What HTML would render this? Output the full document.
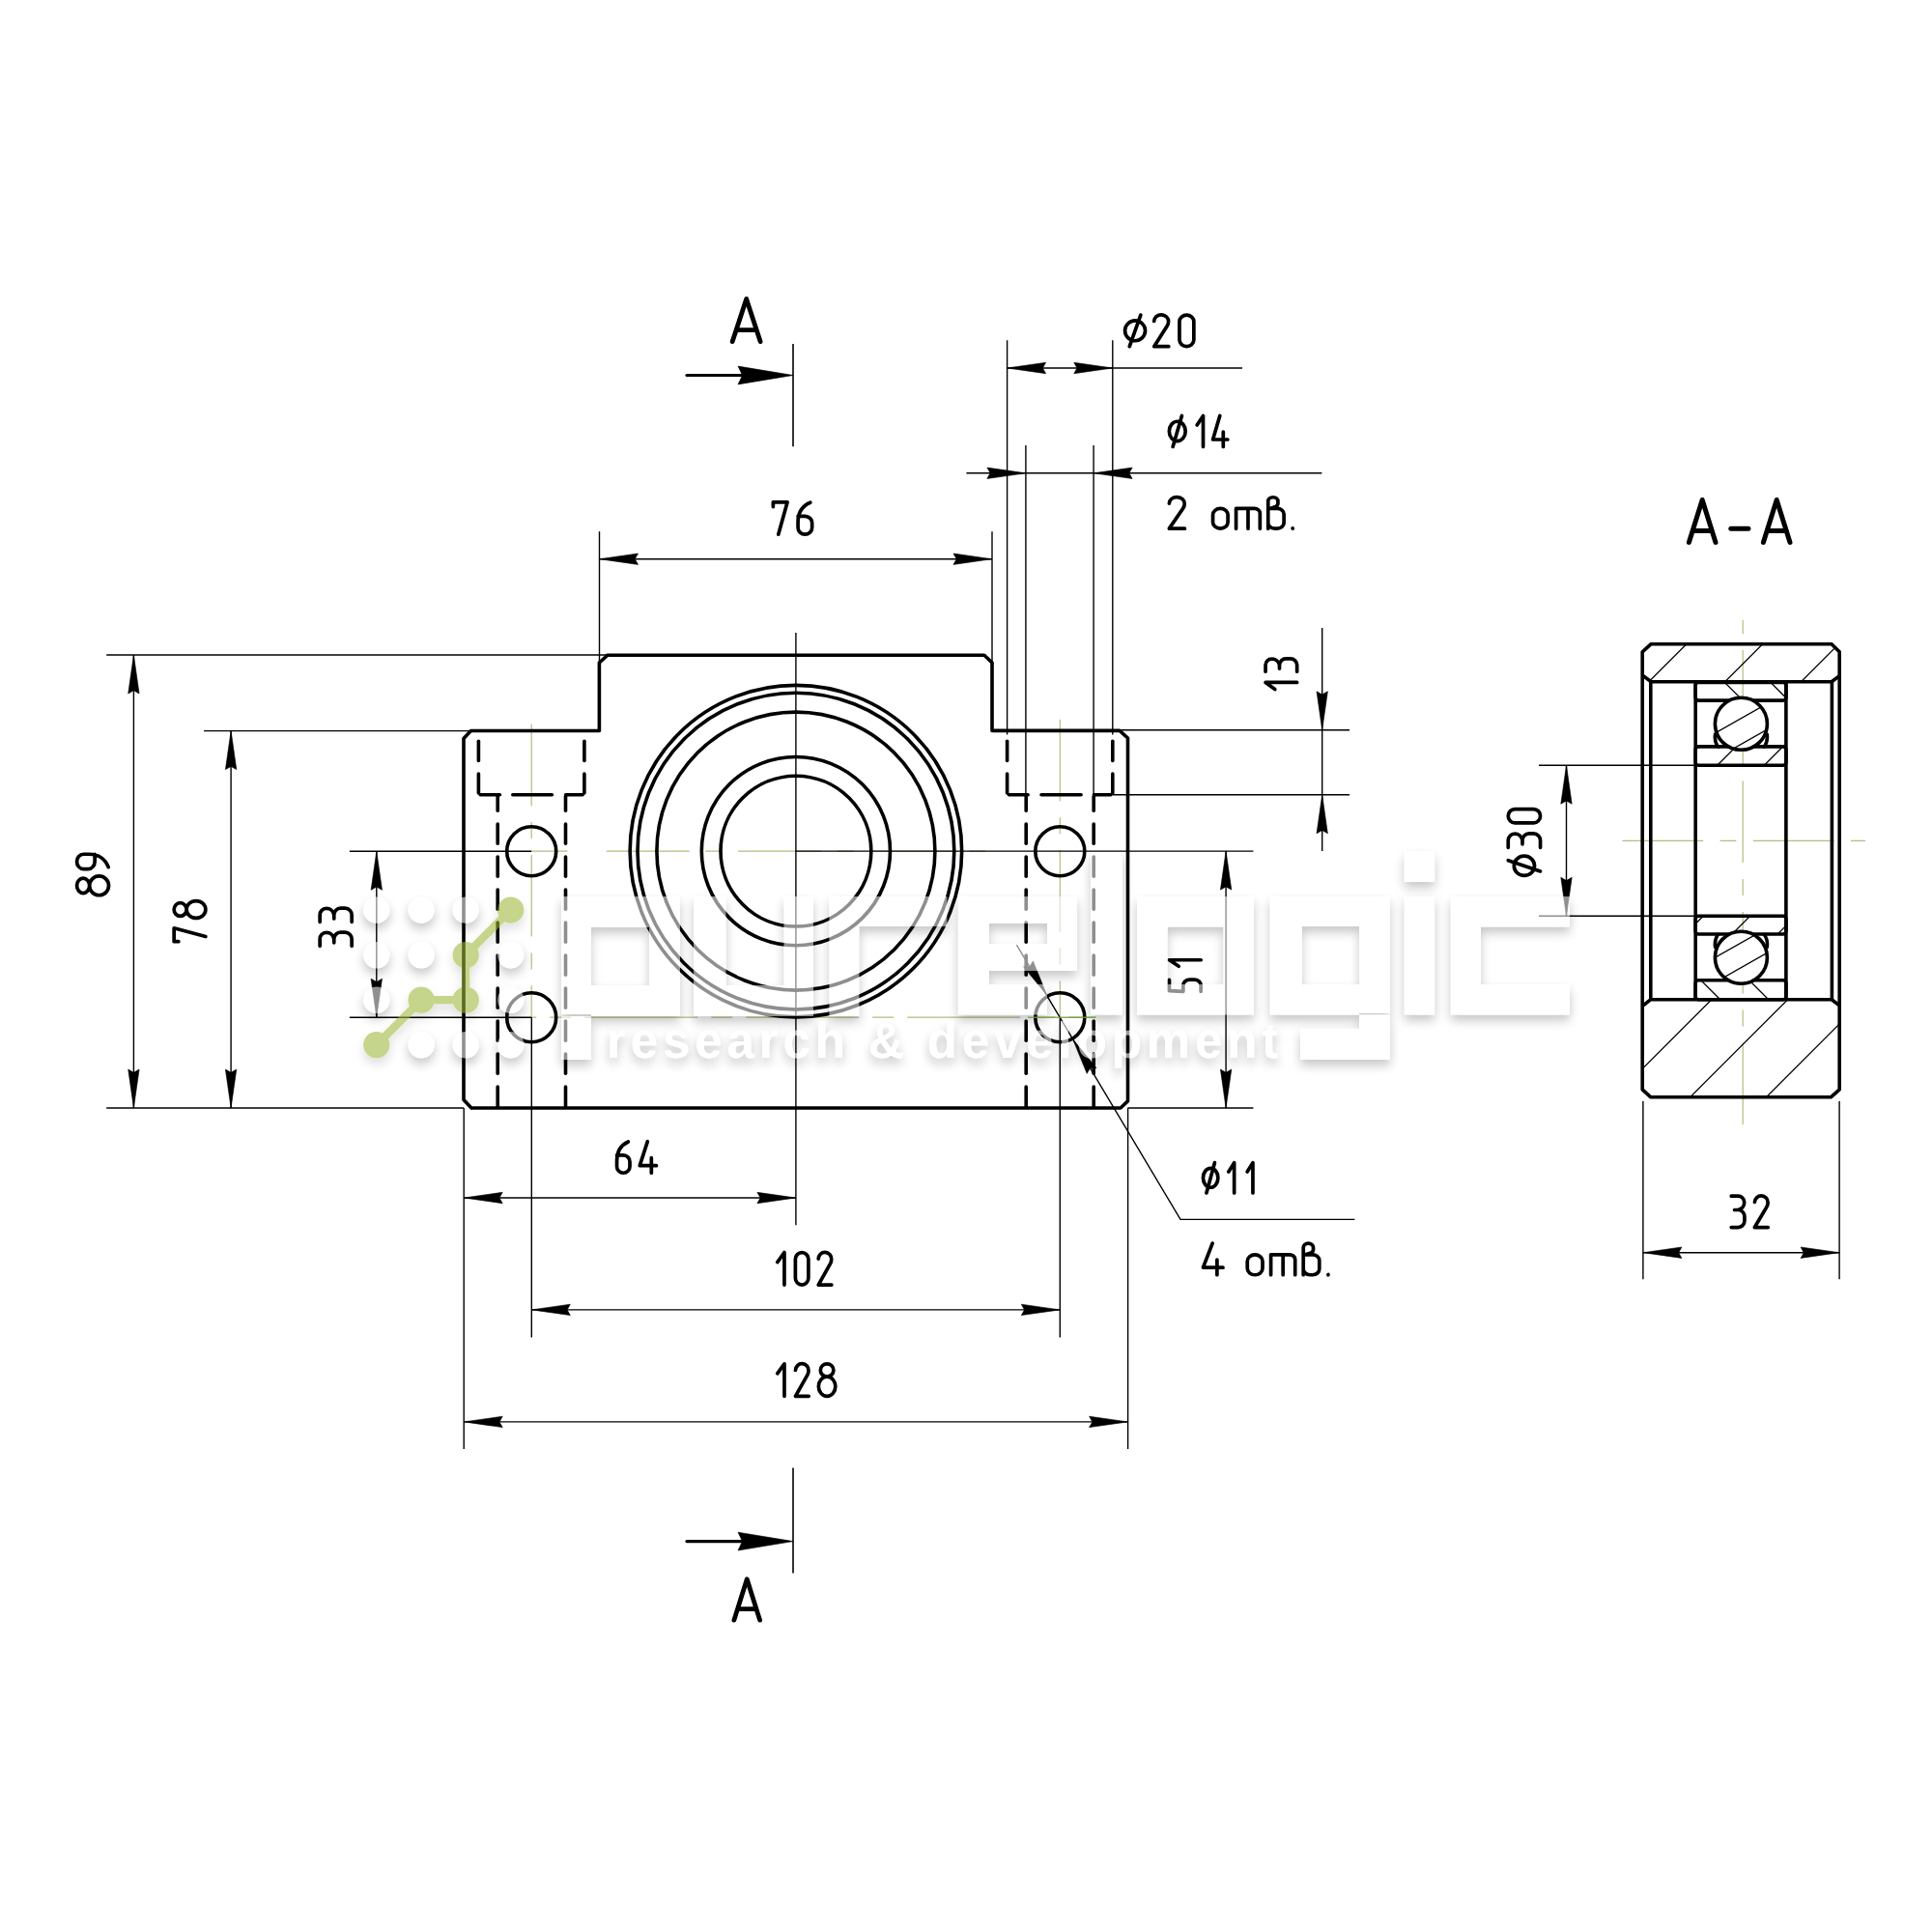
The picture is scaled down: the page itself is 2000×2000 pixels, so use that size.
<!DOCTYPE html><html><head><meta charset="utf-8"><style>html,body{margin:0;padding:0;background:#fff;overflow:hidden}svg{display:block}</style></head><body><svg width="2000" height="2000" viewBox="0 0 2000 2000"><defs><clipPath id="cTop"><path d="M1709.2,666.7 H1896.1 L1904.2,674.8 V699.6 L1896.1,705.8 H1709.2 L1701.1,699.6 V674.8 Z"/></clipPath><clipPath id="cBot"><path d="M1708.8,1034.7 H1896.1 L1904.2,1040.9 V1127.8 L1895.3,1135.8 H1708.9 L1700.2,1127.8 V1040.9 Z"/></clipPath><clipPath id="r1"><rect x="1755.2" y="706.5" width="93.7" height="18.6"/></clipPath><clipPath id="r2"><rect x="1755.2" y="772.9" width="93.7" height="19.3"/></clipPath><clipPath id="r3"><rect x="1755.2" y="948.3" width="93.7" height="18.7"/></clipPath><clipPath id="r4"><rect x="1755.2" y="1014.8" width="93.7" height="19.9"/></clipPath><clipPath id="b1"><circle cx="1802.4" cy="749.3" r="27"/></clipPath><clipPath id="b2"><circle cx="1802.4" cy="991.2" r="27"/></clipPath><clipPath id="b1b"><circle cx="1802.4" cy="749.3" r="27"/></clipPath><clipPath id="b2b"><circle cx="1802.4" cy="991.2" r="27"/></clipPath><filter id="wm" x="-20%" y="-20%" width="140%" height="160%" color-interpolation-filters="sRGB">
<feComponentTransfer in="SourceAlpha" result="A"><feFuncA type="linear" slope="2.2"/></feComponentTransfer>
<feGaussianBlur in="A" stdDeviation="5.5" result="b"/>
<feOffset in="b" dx="0" dy="6" result="o"/>
<feComponentTransfer in="o" result="s"><feFuncA type="linear" slope="0.22"/></feComponentTransfer>
<feFlood flood-color="#000" result="k"/>
<feComposite in="k" in2="s" operator="in" result="sh"/>
<feComposite in="sh" in2="A" operator="out" result="sh2"/>
<feMerge><feMergeNode in="sh2"/><feMergeNode in="SourceGraphic"/></feMerge>
</filter></defs><rect width="2000" height="2000" fill="#fff"/><line x1="627.7" y1="881.1" x2="1020.1" y2="881.1" stroke="#b3bd7f" stroke-width="1.2" stroke-dasharray="86,16.3,17.1,17.1" stroke-dashoffset="0"/>
<line x1="550.2" y1="881.1" x2="587.4" y2="881.1" stroke="#b3bd7f" stroke-width="1.2" stroke-dasharray="200" stroke-dashoffset="0"/>
<line x1="550.2" y1="749.6" x2="550.2" y2="1053.3" stroke="#b3bd7f" stroke-width="1.2" stroke-dasharray="84.7,16.8,17,16.8" stroke-dashoffset="0"/>
<line x1="1097.3" y1="744.8" x2="1097.3" y2="1053.3" stroke="#b3bd7f" stroke-width="1.2" stroke-dasharray="84.7,16.8,17,16.8" stroke-dashoffset="0"/>
<line x1="550.2" y1="1053.1" x2="1134.4" y2="1053.1" stroke="#b3bd7f" stroke-width="1.2" stroke-dasharray="117,14,22,14" stroke-dashoffset="-55"/>
<path d="M480,1138.6 V764.5 L487.5,756.5 H620.4 V686 L629,678.2 H1018.9 L1027,686 V756.4 H1159 L1167.5,764 V1139.9 L1160,1147 H488 Z" fill="none" stroke="#000" stroke-width="3.6" stroke-linecap="round" stroke-linejoin="round"/>
<circle cx="823.9" cy="881.1" r="171.75" fill="none" stroke="#000" stroke-width="3.6"/>
<circle cx="823.9" cy="881.1" r="163.9" fill="none" stroke="#000" stroke-width="3.6"/>
<circle cx="823.9" cy="881.1" r="144" fill="none" stroke="#000" stroke-width="3.6"/>
<circle cx="823.9" cy="881.1" r="97.6" fill="none" stroke="#000" stroke-width="3.6"/>
<circle cx="823.9" cy="881.1" r="77.9" fill="none" stroke="#000" stroke-width="3.6"/>
<circle cx="550.2" cy="881.3" r="25.5" fill="none" stroke="#000" stroke-width="3.6"/>
<circle cx="550.2" cy="1053.2" r="25.5" fill="none" stroke="#000" stroke-width="3.6"/>
<circle cx="1097.3" cy="881.3" r="25.5" fill="none" stroke="#000" stroke-width="3.6"/>
<circle cx="1097.3" cy="1053.2" r="25.5" fill="none" stroke="#000" stroke-width="3.6"/>
<line x1="495.4" y1="801" x2="495.4" y2="820.9" stroke="#000" stroke-width="3.6" stroke-linecap="round"/>
<line x1="495.4" y1="767.2" x2="495.4" y2="787.4" stroke="#000" stroke-width="3.6" stroke-linecap="round"/>
<line x1="604.9" y1="801" x2="604.9" y2="820.9" stroke="#000" stroke-width="3.6" stroke-linecap="round"/>
<line x1="604.9" y1="767.2" x2="604.9" y2="787.4" stroke="#000" stroke-width="3.6" stroke-linecap="round"/>
<line x1="497.2" y1="822.7" x2="517.4" y2="822.7" stroke="#000" stroke-width="3.6" stroke-linecap="round"/>
<line x1="530.8" y1="822.7" x2="571.4" y2="822.7" stroke="#000" stroke-width="3.6" stroke-linecap="round"/>
<line x1="585.7" y1="822.7" x2="603.1" y2="822.7" stroke="#000" stroke-width="3.6" stroke-linecap="round"/>
<line x1="515.2" y1="1125.1" x2="515.2" y2="1145.2" stroke="#000" stroke-width="3.6" stroke-linecap="round"/>
<line x1="515.2" y1="1091.1" x2="515.2" y2="1111.2" stroke="#000" stroke-width="3.6" stroke-linecap="round"/>
<line x1="515.2" y1="1057.1" x2="515.2" y2="1077.2" stroke="#000" stroke-width="3.6" stroke-linecap="round"/>
<line x1="515.2" y1="1023.1" x2="515.2" y2="1043.2" stroke="#000" stroke-width="3.6" stroke-linecap="round"/>
<line x1="515.2" y1="989.1" x2="515.2" y2="1009.2" stroke="#000" stroke-width="3.6" stroke-linecap="round"/>
<line x1="515.2" y1="955.1" x2="515.2" y2="975.2" stroke="#000" stroke-width="3.6" stroke-linecap="round"/>
<line x1="515.2" y1="921.1" x2="515.2" y2="941.2" stroke="#000" stroke-width="3.6" stroke-linecap="round"/>
<line x1="515.2" y1="887.1" x2="515.2" y2="907.2" stroke="#000" stroke-width="3.6" stroke-linecap="round"/>
<line x1="515.2" y1="853.1" x2="515.2" y2="873.2" stroke="#000" stroke-width="3.6" stroke-linecap="round"/>
<line x1="515.2" y1="824.5" x2="515.2" y2="839.2" stroke="#000" stroke-width="3.6" stroke-linecap="round"/>
<line x1="585.5" y1="1125.1" x2="585.5" y2="1145.2" stroke="#000" stroke-width="3.6" stroke-linecap="round"/>
<line x1="585.5" y1="1091.1" x2="585.5" y2="1111.2" stroke="#000" stroke-width="3.6" stroke-linecap="round"/>
<line x1="585.5" y1="1057.1" x2="585.5" y2="1077.2" stroke="#000" stroke-width="3.6" stroke-linecap="round"/>
<line x1="585.5" y1="1023.1" x2="585.5" y2="1043.2" stroke="#000" stroke-width="3.6" stroke-linecap="round"/>
<line x1="585.5" y1="989.1" x2="585.5" y2="1009.2" stroke="#000" stroke-width="3.6" stroke-linecap="round"/>
<line x1="585.5" y1="955.1" x2="585.5" y2="975.2" stroke="#000" stroke-width="3.6" stroke-linecap="round"/>
<line x1="585.5" y1="921.1" x2="585.5" y2="941.2" stroke="#000" stroke-width="3.6" stroke-linecap="round"/>
<line x1="585.5" y1="887.1" x2="585.5" y2="907.2" stroke="#000" stroke-width="3.6" stroke-linecap="round"/>
<line x1="585.5" y1="853.1" x2="585.5" y2="873.2" stroke="#000" stroke-width="3.6" stroke-linecap="round"/>
<line x1="585.5" y1="824.5" x2="585.5" y2="839.2" stroke="#000" stroke-width="3.6" stroke-linecap="round"/>
<line x1="1042.6" y1="801" x2="1042.6" y2="820.9" stroke="#000" stroke-width="3.6" stroke-linecap="round"/>
<line x1="1042.6" y1="767.2" x2="1042.6" y2="787.4" stroke="#000" stroke-width="3.6" stroke-linecap="round"/>
<line x1="1151.8" y1="801" x2="1151.8" y2="820.9" stroke="#000" stroke-width="3.6" stroke-linecap="round"/>
<line x1="1151.8" y1="767.2" x2="1151.8" y2="787.4" stroke="#000" stroke-width="3.6" stroke-linecap="round"/>
<line x1="1044.4" y1="822.7" x2="1064.1" y2="822.7" stroke="#000" stroke-width="3.6" stroke-linecap="round"/>
<line x1="1078" y1="822.7" x2="1119.1" y2="822.7" stroke="#000" stroke-width="3.6" stroke-linecap="round"/>
<line x1="1132.5" y1="822.7" x2="1150" y2="822.7" stroke="#000" stroke-width="3.6" stroke-linecap="round"/>
<line x1="1062.2" y1="1125.1" x2="1062.2" y2="1145.2" stroke="#000" stroke-width="3.6" stroke-linecap="round"/>
<line x1="1062.2" y1="1091.1" x2="1062.2" y2="1111.2" stroke="#000" stroke-width="3.6" stroke-linecap="round"/>
<line x1="1062.2" y1="1057.1" x2="1062.2" y2="1077.2" stroke="#000" stroke-width="3.6" stroke-linecap="round"/>
<line x1="1062.2" y1="1023.1" x2="1062.2" y2="1043.2" stroke="#000" stroke-width="3.6" stroke-linecap="round"/>
<line x1="1062.2" y1="989.1" x2="1062.2" y2="1009.2" stroke="#000" stroke-width="3.6" stroke-linecap="round"/>
<line x1="1062.2" y1="955.1" x2="1062.2" y2="975.2" stroke="#000" stroke-width="3.6" stroke-linecap="round"/>
<line x1="1062.2" y1="921.1" x2="1062.2" y2="941.2" stroke="#000" stroke-width="3.6" stroke-linecap="round"/>
<line x1="1062.2" y1="887.1" x2="1062.2" y2="907.2" stroke="#000" stroke-width="3.6" stroke-linecap="round"/>
<line x1="1062.2" y1="853.1" x2="1062.2" y2="873.2" stroke="#000" stroke-width="3.6" stroke-linecap="round"/>
<line x1="1062.2" y1="824.5" x2="1062.2" y2="839.2" stroke="#000" stroke-width="3.6" stroke-linecap="round"/>
<line x1="1132.2" y1="1125.1" x2="1132.2" y2="1145.2" stroke="#000" stroke-width="3.6" stroke-linecap="round"/>
<line x1="1132.2" y1="1091.1" x2="1132.2" y2="1111.2" stroke="#000" stroke-width="3.6" stroke-linecap="round"/>
<line x1="1132.2" y1="1057.1" x2="1132.2" y2="1077.2" stroke="#000" stroke-width="3.6" stroke-linecap="round"/>
<line x1="1132.2" y1="1023.1" x2="1132.2" y2="1043.2" stroke="#000" stroke-width="3.6" stroke-linecap="round"/>
<line x1="1132.2" y1="989.1" x2="1132.2" y2="1009.2" stroke="#000" stroke-width="3.6" stroke-linecap="round"/>
<line x1="1132.2" y1="955.1" x2="1132.2" y2="975.2" stroke="#000" stroke-width="3.6" stroke-linecap="round"/>
<line x1="1132.2" y1="921.1" x2="1132.2" y2="941.2" stroke="#000" stroke-width="3.6" stroke-linecap="round"/>
<line x1="1132.2" y1="887.1" x2="1132.2" y2="907.2" stroke="#000" stroke-width="3.6" stroke-linecap="round"/>
<line x1="1132.2" y1="853.1" x2="1132.2" y2="873.2" stroke="#000" stroke-width="3.6" stroke-linecap="round"/>
<line x1="1132.2" y1="824.5" x2="1132.2" y2="839.2" stroke="#000" stroke-width="3.6" stroke-linecap="round"/>
<line x1="823.9" y1="655" x2="823.9" y2="1268.3" stroke="#000" stroke-width="1.4" stroke-linecap="butt"/>
<line x1="110.2" y1="678" x2="629" y2="678" stroke="#000" stroke-width="1.4" stroke-linecap="butt"/>
<line x1="110.2" y1="1147" x2="480" y2="1147" stroke="#000" stroke-width="1.4" stroke-linecap="butt"/>
<line x1="138.4" y1="678" x2="138.4" y2="1147" stroke="#000" stroke-width="1.4" stroke-linecap="butt"/>
<path d="M138.4,678 L132.7,718 L138.4,714.8 L144.1,718 Z" fill="#000" stroke="#000" stroke-width="0.6" stroke-linejoin="round"/>
<path d="M138.4,1147 L144.1,1107 L138.4,1110.2 L132.7,1107 Z" fill="#000" stroke="#000" stroke-width="0.6" stroke-linejoin="round"/>
<line x1="211.1" y1="756.6" x2="487.5" y2="756.6" stroke="#000" stroke-width="1.4" stroke-linecap="butt"/>
<line x1="239.1" y1="756.6" x2="239.1" y2="1147" stroke="#000" stroke-width="1.4" stroke-linecap="butt"/>
<path d="M239.1,756.6 L233.4,796.6 L239.1,793.4 L244.8,796.6 Z" fill="#000" stroke="#000" stroke-width="0.6" stroke-linejoin="round"/>
<path d="M239.1,1147 L244.8,1107 L239.1,1110.2 L233.4,1107 Z" fill="#000" stroke="#000" stroke-width="0.6" stroke-linejoin="round"/>
<line x1="361.9" y1="881.3" x2="550.2" y2="881.3" stroke="#000" stroke-width="1.4" stroke-linecap="butt"/>
<line x1="361.9" y1="1053.2" x2="550.2" y2="1053.2" stroke="#000" stroke-width="1.4" stroke-linecap="butt"/>
<line x1="389.8" y1="881.3" x2="389.8" y2="1053.2" stroke="#000" stroke-width="1.4" stroke-linecap="butt"/>
<path d="M389.8,881.3 L384.1,921.3 L389.8,918.1 L395.5,921.3 Z" fill="#000" stroke="#000" stroke-width="0.6" stroke-linejoin="round"/>
<path d="M389.8,1053.2 L395.5,1013.2 L389.8,1016.4 L384.1,1013.2 Z" fill="#000" stroke="#000" stroke-width="0.6" stroke-linejoin="round"/>
<line x1="823.9" y1="881.1" x2="1297.4" y2="881.1" stroke="#000" stroke-width="1.4" stroke-linecap="butt"/>
<line x1="1167.5" y1="1147" x2="1297.4" y2="1147" stroke="#000" stroke-width="1.4" stroke-linecap="butt"/>
<line x1="1269.1" y1="881.1" x2="1269.1" y2="1147" stroke="#000" stroke-width="1.4" stroke-linecap="butt"/>
<path d="M1269.1,881.1 L1263.4,921.1 L1269.1,917.9 L1274.8,921.1 Z" fill="#000" stroke="#000" stroke-width="0.6" stroke-linejoin="round"/>
<path d="M1269.1,1147 L1274.8,1107 L1269.1,1110.2 L1263.4,1107 Z" fill="#000" stroke="#000" stroke-width="0.6" stroke-linejoin="round"/>
<line x1="1159" y1="755.8" x2="1397" y2="755.8" stroke="#000" stroke-width="1.4" stroke-linecap="butt"/>
<line x1="1151.8" y1="822.8" x2="1397" y2="822.8" stroke="#000" stroke-width="1.4" stroke-linecap="butt"/>
<line x1="1368.7" y1="650.1" x2="1368.7" y2="880.9" stroke="#000" stroke-width="1.4" stroke-linecap="butt"/>
<path d="M1368.7,755.8 L1374.4,715.8 L1368.7,719 L1363,715.8 Z" fill="#000" stroke="#000" stroke-width="0.6" stroke-linejoin="round"/>
<path d="M1368.7,822.8 L1363,862.8 L1368.7,859.6 L1374.4,862.8 Z" fill="#000" stroke="#000" stroke-width="0.6" stroke-linejoin="round"/>
<line x1="620.5" y1="550.2" x2="620.5" y2="686" stroke="#000" stroke-width="1.4" stroke-linecap="butt"/>
<line x1="1027" y1="550.2" x2="1027" y2="686" stroke="#000" stroke-width="1.4" stroke-linecap="butt"/>
<line x1="620.5" y1="578.7" x2="1027" y2="578.7" stroke="#000" stroke-width="1.4" stroke-linecap="butt"/>
<path d="M620.5,578.7 L660.5,584.4 L657.3,578.7 L660.5,573 Z" fill="#000" stroke="#000" stroke-width="0.6" stroke-linejoin="round"/>
<path d="M1027,578.7 L987,573 L990.2,578.7 L987,584.4 Z" fill="#000" stroke="#000" stroke-width="0.6" stroke-linejoin="round"/>
<line x1="1042.6" y1="352.2" x2="1042.6" y2="760.6" stroke="#000" stroke-width="1.4" stroke-linecap="butt"/>
<line x1="1151.8" y1="352.2" x2="1151.8" y2="760.6" stroke="#000" stroke-width="1.4" stroke-linecap="butt"/>
<line x1="1042.6" y1="381" x2="1286" y2="381" stroke="#000" stroke-width="1.4" stroke-linecap="butt"/>
<path d="M1042.6,381 L1082.6,386.7 L1079.4,381 L1082.6,375.3 Z" fill="#000" stroke="#000" stroke-width="0.6" stroke-linejoin="round"/>
<path d="M1151.8,381 L1111.8,375.3 L1115,381 L1111.8,386.7 Z" fill="#000" stroke="#000" stroke-width="0.6" stroke-linejoin="round"/>
<line x1="1061.9" y1="461" x2="1061.9" y2="822.7" stroke="#000" stroke-width="1.4" stroke-linecap="butt"/>
<line x1="1132.1" y1="461" x2="1132.1" y2="822.7" stroke="#000" stroke-width="1.4" stroke-linecap="butt"/>
<line x1="1000.4" y1="489.8" x2="1368.4" y2="489.8" stroke="#000" stroke-width="1.4" stroke-linecap="butt"/>
<path d="M1061.9,489.8 L1021.9,484.1 L1025.1,489.8 L1021.9,495.5 Z" fill="#000" stroke="#000" stroke-width="0.6" stroke-linejoin="round"/>
<path d="M1132.1,489.8 L1172.1,495.5 L1168.9,489.8 L1172.1,484.1 Z" fill="#000" stroke="#000" stroke-width="0.6" stroke-linejoin="round"/>
<line x1="480.2" y1="1147" x2="480.2" y2="1500" stroke="#000" stroke-width="1.4" stroke-linecap="butt"/>
<line x1="480.2" y1="1240" x2="823.9" y2="1240" stroke="#000" stroke-width="1.4" stroke-linecap="butt"/>
<path d="M480.2,1240 L520.2,1245.7 L517,1240 L520.2,1234.3 Z" fill="#000" stroke="#000" stroke-width="0.6" stroke-linejoin="round"/>
<path d="M823.9,1240 L783.9,1234.3 L787.1,1240 L783.9,1245.7 Z" fill="#000" stroke="#000" stroke-width="0.6" stroke-linejoin="round"/>
<line x1="550.3" y1="1053.2" x2="550.3" y2="1384.6" stroke="#000" stroke-width="1.4" stroke-linecap="butt"/>
<line x1="1097.3" y1="1053.2" x2="1097.3" y2="1384.6" stroke="#000" stroke-width="1.4" stroke-linecap="butt"/>
<line x1="550.3" y1="1355.9" x2="1097.3" y2="1355.9" stroke="#000" stroke-width="1.4" stroke-linecap="butt"/>
<path d="M550.3,1355.9 L590.3,1361.6 L587.1,1355.9 L590.3,1350.2 Z" fill="#000" stroke="#000" stroke-width="0.6" stroke-linejoin="round"/>
<path d="M1097.3,1355.9 L1057.3,1350.2 L1060.5,1355.9 L1057.3,1361.6 Z" fill="#000" stroke="#000" stroke-width="0.6" stroke-linejoin="round"/>
<line x1="1167.6" y1="1147" x2="1167.6" y2="1500" stroke="#000" stroke-width="1.4" stroke-linecap="butt"/>
<line x1="480.2" y1="1471.9" x2="1167.6" y2="1471.9" stroke="#000" stroke-width="1.4" stroke-linecap="butt"/>
<path d="M480.2,1471.9 L520.2,1477.6 L517,1471.9 L520.2,1466.2 Z" fill="#000" stroke="#000" stroke-width="0.6" stroke-linejoin="round"/>
<path d="M1167.6,1471.9 L1127.6,1466.2 L1130.8,1471.9 L1127.6,1477.6 Z" fill="#000" stroke="#000" stroke-width="0.6" stroke-linejoin="round"/>
<path d="M1052.4,978.2 L1222,1262.4 H1402.4" fill="none" stroke="#000" stroke-width="1.4" stroke-linecap="butt" stroke-linejoin="miter"/>
<path d="M1083.9,1030.4 L1069.32,994.85 L1066.07,1000.52 L1059.53,1000.69 Z" fill="#000" stroke="#000" stroke-width="0.6" stroke-linejoin="round"/>
<path d="M1110.6,1075.8 L1125.18,1111.35 L1128.43,1105.68 L1134.97,1105.51 Z" fill="#000" stroke="#000" stroke-width="0.6" stroke-linejoin="round"/>
<line x1="821" y1="356.1" x2="821" y2="462.2" stroke="#000" stroke-width="1.6" stroke-linecap="butt"/>
<line x1="711" y1="388.5" x2="780" y2="388.5" stroke="#000" stroke-width="3.2" stroke-linecap="round"/>
<path d="M821,388.5 L764,379.1 L768.5,388.5 L764,397.9 Z" fill="#000" stroke="#000" stroke-width="0.6" stroke-linejoin="round"/>
<line x1="821" y1="1519.4" x2="821" y2="1628.4" stroke="#000" stroke-width="1.6" stroke-linecap="butt"/>
<line x1="711" y1="1595.6" x2="780" y2="1595.6" stroke="#000" stroke-width="3.2" stroke-linecap="round"/>
<path d="M821,1595.6 L764,1586.2 L768.5,1595.6 L764,1605 Z" fill="#000" stroke="#000" stroke-width="0.6" stroke-linejoin="round"/>
<line x1="1804.2" y1="641.9" x2="1804.2" y2="1166.1" stroke="#b3bd7f" stroke-width="1.2" stroke-dasharray="84.5,17,17,17" stroke-dashoffset="-31"/>
<line x1="1679.4" y1="870.4" x2="1931" y2="870.4" stroke="#b3bd7f" stroke-width="1.2" stroke-dasharray="83.8,17.4,16.8,17.4" stroke-dashoffset="0"/>
<path clip-path="url(#cTop)" d="M1693.8,640 L1593.8,740 M1772.6,640 L1672.6,740 M1851.4,640 L1751.4,740 M1930.2,640 L1830.2,740 M2009,640 L1909,740" stroke="#000" stroke-width="1.3" fill="none"/>
<path clip-path="url(#cBot)" d="M1707.8,1020 L1577.8,1150 M1786.6,1020 L1656.6,1150 M1865.4,1020 L1735.4,1150 M1944.2,1020 L1814.2,1150 M2023,1020 L1893,1150 M2101.8,1020 L1971.8,1150" stroke="#000" stroke-width="1.3" fill="none"/>
<path clip-path="url(#r1)" d="M1780.5,701.5 L1809.1,730.1 M1828,701.5 L1856.6,730.1" stroke="#000" stroke-width="1.3" fill="none"/>
<path clip-path="url(#r2)" d="M1802.1,767.9 L1772.8,797.2 M1850.6,767.9 L1821.3,797.2" stroke="#000" stroke-width="1.3" fill="none"/>
<path clip-path="url(#r3)" d="M1768.2,943.3 L1739.5,972 M1816.7,943.3 L1788,972 M1863.9,943.3 L1835.2,972" stroke="#000" stroke-width="1.3" fill="none"/>
<path clip-path="url(#r4)" d="M1755.8,1009.8 L1785.7,1039.7 M1805.8,1009.8 L1835.7,1039.7" stroke="#000" stroke-width="1.3" fill="none"/>
<path clip-path="url(#b1)" d="M1762.4,766.3 L1842.4,721.1 M1762.4,793 L1842.4,747.8" stroke="#000" stroke-width="1.3" fill="none"/>
<path clip-path="url(#b2)" d="M1762.4,998.6 L1842.4,953.4 M1762.4,1024.3 L1842.4,979.1" stroke="#000" stroke-width="1.3" fill="none"/>
<path d="M1709.2,666.7 H1896.1 L1904.2,674.8 V1127.8 L1895.3,1135.8 H1708.9 L1700.2,1127.8 V674.8 Z" fill="none" stroke="#000" stroke-width="3.6" stroke-linecap="round" stroke-linejoin="round"/>
<path d="M1701.1,699.6 L1709.2,705.8 H1896.1 L1904.2,699.6" fill="none" stroke="#000" stroke-width="3.6" stroke-linecap="round" stroke-linejoin="round"/>
<path d="M1701.1,1040.9 L1708.8,1034.7 H1896.1 L1904.2,1040.9" fill="none" stroke="#000" stroke-width="3.6" stroke-linecap="round" stroke-linejoin="round"/>
<line x1="1708.8" y1="705.8" x2="1708.8" y2="1034.7" stroke="#000" stroke-width="3.6" stroke-linecap="butt"/>
<line x1="1896.4" y1="705.8" x2="1896.4" y2="1034.7" stroke="#000" stroke-width="3.6" stroke-linecap="butt"/>
<line x1="1755.2" y1="705.8" x2="1755.2" y2="1034.7" stroke="#000" stroke-width="3.6" stroke-linecap="butt"/>
<line x1="1848.9" y1="705.8" x2="1848.9" y2="1034.7" stroke="#000" stroke-width="3.6" stroke-linecap="butt"/>
<rect x="1755.2" y="706.5" width="93.7" height="18.6" rx="3" fill="none" stroke="#000" stroke-width="3.6"/>
<rect x="1755.2" y="772.9" width="93.7" height="19.3" rx="3" fill="none" stroke="#000" stroke-width="3.6"/>
<rect x="1755.2" y="948.3" width="93.7" height="18.7" rx="3" fill="none" stroke="#000" stroke-width="3.6"/>
<rect x="1755.2" y="1014.8" width="93.7" height="19.9" rx="3" fill="none" stroke="#000" stroke-width="3.6"/>
<circle cx="1802.4" cy="749.3" r="27" fill="#fff" stroke="#000" stroke-width="3.6"/>
<circle cx="1802.4" cy="991.2" r="27" fill="#fff" stroke="#000" stroke-width="3.6"/>
<path clip-path="url(#b1b)" d="M1762.4,766.3 L1842.4,721.1 M1762.4,793 L1842.4,747.8" stroke="#000" stroke-width="1.3" fill="none"/>
<path clip-path="url(#b2b)" d="M1762.4,998.6 L1842.4,953.4 M1762.4,1024.3 L1842.4,979.1" stroke="#000" stroke-width="1.3" fill="none"/>
<path d="M1775.6,760 Q1774.5,768 1778.5,773" fill="none" stroke="#000" stroke-width="3.6" stroke-linecap="round" stroke-linejoin="round"/>
<path d="M1829.2,760 Q1830.3,768 1826.3,773" fill="none" stroke="#000" stroke-width="3.6" stroke-linecap="round" stroke-linejoin="round"/>
<path d="M1775.6,980.5 Q1774.5,972.5 1778.5,967.5" fill="none" stroke="#000" stroke-width="3.6" stroke-linecap="round" stroke-linejoin="round"/>
<path d="M1829.2,980.5 Q1830.3,972.5 1826.3,967.5" fill="none" stroke="#000" stroke-width="3.6" stroke-linecap="round" stroke-linejoin="round"/>
<line x1="1593" y1="792.2" x2="1755.2" y2="792.2" stroke="#000" stroke-width="1.4" stroke-linecap="butt"/>
<line x1="1593" y1="948.3" x2="1755.2" y2="948.3" stroke="#000" stroke-width="1.4" stroke-linecap="butt"/>
<line x1="1621.5" y1="792.2" x2="1621.5" y2="948.3" stroke="#000" stroke-width="1.4" stroke-linecap="butt"/>
<path d="M1621.5,792.2 L1615.8,832.2 L1621.5,829 L1627.2,832.2 Z" fill="#000" stroke="#000" stroke-width="0.6" stroke-linejoin="round"/>
<path d="M1621.5,948.3 L1627.2,908.3 L1621.5,911.5 L1615.8,908.3 Z" fill="#000" stroke="#000" stroke-width="0.6" stroke-linejoin="round"/>
<line x1="1700.9" y1="1140" x2="1700.9" y2="1324.3" stroke="#000" stroke-width="1.4" stroke-linecap="butt"/>
<line x1="1904.1" y1="1140" x2="1904.1" y2="1324.3" stroke="#000" stroke-width="1.4" stroke-linecap="butt"/>
<line x1="1700.9" y1="1296.7" x2="1904.1" y2="1296.7" stroke="#000" stroke-width="1.4" stroke-linecap="butt"/>
<path d="M1700.9,1296.7 L1740.9,1302.4 L1737.7,1296.7 L1740.9,1291 Z" fill="#000" stroke="#000" stroke-width="0.6" stroke-linejoin="round"/>
<path d="M1904.1,1296.7 L1864.1,1291 L1867.3,1296.7 L1864.1,1302.4 Z" fill="#000" stroke="#000" stroke-width="0.6" stroke-linejoin="round"/>
<g id="t0" transform="matrix(1.36321,0,0,1.32733,755.678,306.944)" fill="none" stroke="#000" stroke-width="4.8" stroke-linecap="round" stroke-linejoin="round"><path vector-effect="non-scaling-stroke" transform="translate(0,0)" d="M1.85,35.15 L12.45,1.85 L23.05,35.15 M6.2,26.1 H18.7"/></g>
<g id="t1" transform="matrix(1.25943,0,0,1.27027,757.570,1632.450)" fill="none" stroke="#000" stroke-width="4.8" stroke-linecap="round" stroke-linejoin="round"><path vector-effect="non-scaling-stroke" transform="translate(0,0)" d="M1.85,35.15 L12.45,1.85 L23.05,35.15 M6.2,26.1 H18.7"/></g>
<g id="t2" transform="matrix(1.30180,0,0,1.31832,1745.992,515.061)" fill="none" stroke="#000" stroke-width="5.0" stroke-linecap="round" stroke-linejoin="round"><path vector-effect="non-scaling-stroke" transform="translate(0,0)" d="M1.85,35.15 L12.45,1.85 L23.05,35.15 M6.2,26.1 H18.7"/><path vector-effect="non-scaling-stroke" transform="translate(32.5,0)" d="M2.7,24.4 H16.6"/><path vector-effect="non-scaling-stroke" transform="translate(59.15,0)" d="M1.85,35.15 L12.45,1.85 L23.05,35.15 M6.2,26.1 H18.7"/></g>
<g id="t3" transform="matrix(1.04948,0,0,1.00000,798.408,518.000)" fill="none" stroke="#000" stroke-width="3.7" stroke-linecap="round" stroke-linejoin="round"><path vector-effect="non-scaling-stroke" transform="translate(0,0)" d="M1.85,6.6 V1.85 H15.9 L7.0,35.15"/><path vector-effect="non-scaling-stroke" transform="translate(24.5,0)" d="M14.0,2.2 C6.5,5.5 1.85,11.5 1.85,22.5 V28.2 A6.95,6.95 0 0 0 8.8,35.15 A6.95,6.95 0 0 0 15.75,28.2 V23.35 A6.95,6.95 0 0 0 8.8,16.4 H1.85"/></g>
<g id="t4" transform="matrix(1.07137,0,0,0.97909,1162.193,324.235)" fill="none" stroke="#000" stroke-width="3.7" stroke-linecap="round" stroke-linejoin="round"><path vector-effect="non-scaling-stroke" transform="translate(0,0)" d="M2.2,18.5 A9.8,10.6 0 1 0 21.8,18.5 A9.8,10.6 0 1 0 2.2,18.5 Z M17.4,1.85 L6.6,35.15"/><path vector-effect="non-scaling-stroke" transform="translate(28.5,0)" d="M1.85,8.4 A6.95,6.95 0 0 1 15.75,8.8 Q15.75,11.4 14.4,13.6 L1.85,35.15 H15.9"/><path vector-effect="non-scaling-stroke" transform="translate(53,0)" d="M1.85,8.8 A6.95,6.95 0 0 1 15.75,8.8 V28.2 A6.95,6.95 0 0 1 1.85,28.2 Z"/></g>
<g id="t5" transform="matrix(0.85937,0,0,0.96096,1208.459,428.672)" fill="none" stroke="#000" stroke-width="3.7" stroke-linecap="round" stroke-linejoin="round"><path vector-effect="non-scaling-stroke" transform="translate(0,0)" d="M2.2,18.5 A9.8,10.6 0 1 0 21.8,18.5 A9.8,10.6 0 1 0 2.2,18.5 Z M17.4,1.85 L6.6,35.15"/><path vector-effect="non-scaling-stroke" transform="translate(28.5,0)" d="M7.2,11.8 L14.6,1.85 V35.15"/><path vector-effect="non-scaling-stroke" transform="translate(53,0)" d="M10.2,1.85 L1.85,27.4 H19.6 M14.3,19.2 V35.15"/></g>
<g id="t6" transform="matrix(1.14414,0,0,0.97312,1208.233,512.945)" fill="none" stroke="#000" stroke-width="3.7" stroke-linecap="round" stroke-linejoin="round"><path vector-effect="non-scaling-stroke" transform="translate(0,0)" d="M1.85,8.4 A6.95,6.95 0 0 1 15.75,8.8 Q15.75,11.4 14.4,13.6 L1.85,35.15 H15.9"/><path vector-effect="non-scaling-stroke" transform="translate(39.5,0)" d="M1.85,20.65 A6.8,6.8 0 0 1 15.45,20.65 V28.35 A6.8,6.8 0 0 1 1.85,28.35 Z"/><path vector-effect="non-scaling-stroke" transform="translate(60.5,0)" d="M1.85,35.15 V13.85 H18.5 A5,5 0 0 1 23.5,18.85 V35.15 M12.7,13.85 V35.15"/><path vector-effect="non-scaling-stroke" transform="translate(89.5,0)" d="M1.85,35.15 V6.3 A4.45,4.45 0 0 1 10.75,6.3 V8.3 Q10.75,10.6 8.6,12.0 L3.6,13.85 M1.85,13.85 H10.15 A6,6 0 0 1 16.15,19.85 V29.15 A6,6 0 0 1 10.15,35.15 H7.85 A6,6 0 0 1 1.85,29.15"/><path vector-effect="non-scaling-stroke" transform="translate(111.5,0)" d="M2.0,34.9 L2.05,35.15"/></g>
<g id="t7" transform="matrix(0,-0.95613,0.97898,0,1308.239,720.434)" fill="none" stroke="#000" stroke-width="3.7" stroke-linecap="round" stroke-linejoin="round"><path vector-effect="non-scaling-stroke" transform="translate(0,0)" d="M7.2,11.8 L14.6,1.85 V35.15"/><path vector-effect="non-scaling-stroke" transform="translate(24.5,0)" d="M1.85,1.85 H8.9 A6.6,6.6 0 0 1 15.5,8.45 A8.1,8.1 0 0 1 8.9,16.6 H5.2 M8.9,16.6 A6.85,6.85 0 0 1 15.75,23.45 V28.2 A6.95,6.95 0 0 1 8.8,35.15 H1.85"/></g>
<g id="t8" transform="matrix(0,-1.10668,0.99099,0,77.717,928.794)" fill="none" stroke="#000" stroke-width="3.7" stroke-linecap="round" stroke-linejoin="round"><path vector-effect="non-scaling-stroke" transform="translate(0,0)" d="M10.8,1.85 A6.95,6.6 0 1 1 10.8,15.05 A6.95,6.6 0 1 1 10.8,1.85 Z M10.8,15.05 A8.95,10.05 0 1 1 10.8,35.15 A8.95,10.05 0 1 1 10.8,15.05 Z"/><path vector-effect="non-scaling-stroke" transform="translate(24.5,0)" d="M3.6,34.8 C11.1,31.5 15.75,25.5 15.75,14.5 V8.8 A6.95,6.95 0 0 0 8.8,1.85 A6.95,6.95 0 0 0 1.85,8.8 V13.65 A6.95,6.95 0 0 0 8.8,20.6 H15.75"/></g>
<g id="t9" transform="matrix(0,-0.99049,0.98198,0,178.333,976.482)" fill="none" stroke="#000" stroke-width="3.7" stroke-linecap="round" stroke-linejoin="round"><path vector-effect="non-scaling-stroke" transform="translate(0,0)" d="M1.85,6.6 V1.85 H15.9 L7.0,35.15"/><path vector-effect="non-scaling-stroke" transform="translate(24.5,0)" d="M10.8,1.85 A6.95,6.6 0 1 1 10.8,15.05 A6.95,6.6 0 1 1 10.8,1.85 Z M10.8,15.05 A8.95,10.05 0 1 1 10.8,35.15 A8.95,10.05 0 1 1 10.8,15.05 Z"/></g>
<g id="t10" transform="matrix(0,-1.01823,0.99099,0,329.317,981.134)" fill="none" stroke="#000" stroke-width="3.7" stroke-linecap="round" stroke-linejoin="round"><path vector-effect="non-scaling-stroke" transform="translate(0,0)" d="M1.85,1.85 H8.9 A6.6,6.6 0 0 1 15.5,8.45 A8.1,8.1 0 0 1 8.9,16.6 H5.2 M8.9,16.6 A6.85,6.85 0 0 1 15.75,23.45 V28.2 A6.95,6.95 0 0 1 8.8,35.15 H1.85"/><path vector-effect="non-scaling-stroke" transform="translate(24.5,0)" d="M1.85,1.85 H8.9 A6.6,6.6 0 0 1 15.5,8.45 A8.1,8.1 0 0 1 8.9,16.6 H5.2 M8.9,16.6 A6.85,6.85 0 0 1 15.75,23.45 V28.2 A6.95,6.95 0 0 1 8.8,35.15 H1.85"/></g>
<g id="t11" transform="matrix(0,-0.87517,0.98198,0,1208.633,1027.969)" fill="none" stroke="#000" stroke-width="3.7" stroke-linecap="round" stroke-linejoin="round"><path vector-effect="non-scaling-stroke" transform="translate(0,0)" d="M15.5,1.85 H2.6 L1.85,16.5 H8.8 A6.95,6.95 0 0 1 15.75,23.45 V28.2 A6.95,6.95 0 0 1 8.8,35.15 H1.85"/><path vector-effect="non-scaling-stroke" transform="translate(24.5,0)" d="M7.2,11.8 L14.6,1.85 V35.15"/></g>
<g id="t12" transform="matrix(0.96805,0,0,0.97898,636.759,1179.839)" fill="none" stroke="#000" stroke-width="3.7" stroke-linecap="round" stroke-linejoin="round"><path vector-effect="non-scaling-stroke" transform="translate(0,0)" d="M14.0,2.2 C6.5,5.5 1.85,11.5 1.85,22.5 V28.2 A6.95,6.95 0 0 0 8.8,35.15 A6.95,6.95 0 0 0 15.75,28.2 V23.35 A6.95,6.95 0 0 0 8.8,16.4 H1.85"/><path vector-effect="non-scaling-stroke" transform="translate(24.5,0)" d="M10.2,1.85 L1.85,27.4 H19.6 M14.3,19.2 V35.15"/></g>
<g id="t13" transform="matrix(0.97227,0,0,1.00596,797.750,1294.691)" fill="none" stroke="#000" stroke-width="3.7" stroke-linecap="round" stroke-linejoin="round"><path vector-effect="non-scaling-stroke" transform="translate(0,0)" d="M7.2,11.8 L14.6,1.85 V35.15"/><path vector-effect="non-scaling-stroke" transform="translate(24.5,0)" d="M1.85,8.8 A6.95,6.95 0 0 1 15.75,8.8 V28.2 A6.95,6.95 0 0 1 1.85,28.2 Z"/><path vector-effect="non-scaling-stroke" transform="translate(49,0)" d="M1.85,8.4 A6.95,6.95 0 0 1 15.75,8.8 Q15.75,11.4 14.4,13.6 L1.85,35.15 H15.9"/></g>
<g id="t14" transform="matrix(0.97639,0,0,1.00596,797.720,1409.991)" fill="none" stroke="#000" stroke-width="3.7" stroke-linecap="round" stroke-linejoin="round"><path vector-effect="non-scaling-stroke" transform="translate(0,0)" d="M7.2,11.8 L14.6,1.85 V35.15"/><path vector-effect="non-scaling-stroke" transform="translate(24.5,0)" d="M1.85,8.4 A6.95,6.95 0 0 1 15.75,8.8 Q15.75,11.4 14.4,13.6 L1.85,35.15 H15.9"/><path vector-effect="non-scaling-stroke" transform="translate(49,0)" d="M10.8,1.85 A6.95,6.6 0 1 1 10.8,15.05 A6.95,6.6 0 1 1 10.8,1.85 Z M10.8,15.05 A8.95,10.05 0 1 1 10.8,35.15 A8.95,10.05 0 1 1 10.8,15.05 Z"/></g>
<g id="t15" transform="matrix(0.78746,0,0,0.93994,1243.718,1201.911)" fill="none" stroke="#000" stroke-width="3.7" stroke-linecap="round" stroke-linejoin="round"><path vector-effect="non-scaling-stroke" transform="translate(0,0)" d="M2.2,18.5 A9.8,10.6 0 1 0 21.8,18.5 A9.8,10.6 0 1 0 2.2,18.5 Z M17.4,1.85 L6.6,35.15"/><path vector-effect="non-scaling-stroke" transform="translate(28.5,0)" d="M7.2,11.8 L14.6,1.85 V35.15"/><path vector-effect="non-scaling-stroke" transform="translate(53,0)" d="M7.2,11.8 L14.6,1.85 V35.15"/></g>
<g id="t16" transform="matrix(1.15936,0,0,0.98198,1243.305,1285.233)" fill="none" stroke="#000" stroke-width="3.7" stroke-linecap="round" stroke-linejoin="round"><path vector-effect="non-scaling-stroke" transform="translate(0,0)" d="M10.2,1.85 L1.85,27.4 H19.6 M14.3,19.2 V35.15"/><path vector-effect="non-scaling-stroke" transform="translate(39.5,0)" d="M1.85,20.65 A6.8,6.8 0 0 1 15.45,20.65 V28.35 A6.8,6.8 0 0 1 1.85,28.35 Z"/><path vector-effect="non-scaling-stroke" transform="translate(60.5,0)" d="M1.85,35.15 V13.85 H18.5 A5,5 0 0 1 23.5,18.85 V35.15 M12.7,13.85 V35.15"/><path vector-effect="non-scaling-stroke" transform="translate(89.5,0)" d="M1.85,35.15 V6.3 A4.45,4.45 0 0 1 10.75,6.3 V8.3 Q10.75,10.6 8.6,12.0 L3.6,13.85 M1.85,13.85 H10.15 A6,6 0 0 1 16.15,19.85 V29.15 A6,6 0 0 1 10.15,35.15 H7.85 A6,6 0 0 1 1.85,29.15"/><path vector-effect="non-scaling-stroke" transform="translate(111.5,0)" d="M2.0,34.9 L2.05,35.15"/></g>
<g id="t17" transform="matrix(0.98573,0,0,0.97312,1790.426,1236.345)" fill="none" stroke="#000" stroke-width="3.7" stroke-linecap="round" stroke-linejoin="round"><path vector-effect="non-scaling-stroke" transform="translate(0,0)" d="M1.85,1.85 H8.9 A6.6,6.6 0 0 1 15.5,8.45 A8.1,8.1 0 0 1 8.9,16.6 H5.2 M8.9,16.6 A6.85,6.85 0 0 1 15.75,23.45 V28.2 A6.95,6.95 0 0 1 8.8,35.15 H1.85"/><path vector-effect="non-scaling-stroke" transform="translate(24.5,0)" d="M1.85,8.4 A6.95,6.95 0 0 1 15.75,8.8 Q15.75,11.4 14.4,13.6 L1.85,35.15 H15.9"/></g>
<g id="t18" transform="matrix(0,-1.03531,1.00000,0,1559.400,908.728)" fill="none" stroke="#000" stroke-width="3.7" stroke-linecap="round" stroke-linejoin="round"><path vector-effect="non-scaling-stroke" transform="translate(0,0)" d="M2.2,18.5 A9.8,10.6 0 1 0 21.8,18.5 A9.8,10.6 0 1 0 2.2,18.5 Z M17.4,1.85 L6.6,35.15"/><path vector-effect="non-scaling-stroke" transform="translate(28.5,0)" d="M1.85,1.85 H8.9 A6.6,6.6 0 0 1 15.5,8.45 A8.1,8.1 0 0 1 8.9,16.6 H5.2 M8.9,16.6 A6.85,6.85 0 0 1 15.75,23.45 V28.2 A6.95,6.95 0 0 1 8.8,35.15 H1.85"/><path vector-effect="non-scaling-stroke" transform="translate(53,0)" d="M1.85,8.8 A6.95,6.95 0 0 1 15.75,8.8 V28.2 A6.95,6.95 0 0 1 1.85,28.2 Z"/></g>
<g filter="url(#wm)"><path d="M581,928 H704 V1052 H581 Z M612,960 H672 V1020 H612 Z M718,928 H751.5 V1020 H811.5 V928 H842 V1052 H718 Z M858.4,928 H980.4 V959 H889.4 V1052 H858.4 Z M991.8,928 H1115 V1005 H1024 V1019 H1084 V1050.6 H991.8 Z M1024,956 H1084 V977 H1024 Z M1129,882 H1162 V1050.6 H1129 Z M1177,928 H1298 V1050.5 H1177 Z M1208.6,959.4 H1266.5 V1019 H1208.6 Z M1314.6,928 H1438.8 V1050.5 H1314.6 Z M1347.7,959 H1407.3 V1019 H1347.7 Z M1407,1049 H1438.8 V1097 H1346 V1064.7 H1407 Z M1453.7,881.5 H1485.2 V913 H1453.7 Z M1453.7,928 H1485.2 V1050.5 H1453.7 Z M1501.7,928 H1625 V959.5 H1533 V1019 H1625 V1050.5 H1501.7 Z M581,1050 H612 V1097 H581 Z " fill="#fff" fill-opacity="0.56" fill-rule="evenodd"/><circle cx="389.8" cy="942.1" r="13.7" fill="#fff" fill-opacity="0.56"/><circle cx="389.8" cy="988.7" r="13.7" fill="#fff" fill-opacity="0.56"/><circle cx="389.8" cy="1035.3" r="13.7" fill="#fff" fill-opacity="0.56"/><circle cx="436.1" cy="942.1" r="13.7" fill="#fff" fill-opacity="0.56"/><circle cx="436.1" cy="988.7" r="13.7" fill="#fff" fill-opacity="0.56"/><circle cx="436.1" cy="1081.8" r="13.7" fill="#fff" fill-opacity="0.56"/><circle cx="482.2" cy="942.1" r="13.7" fill="#fff" fill-opacity="0.56"/><circle cx="482.2" cy="1081.8" r="13.7" fill="#fff" fill-opacity="0.56"/><circle cx="528.7" cy="988.7" r="13.7" fill="#fff" fill-opacity="0.56"/><circle cx="528.7" cy="1035.3" r="13.7" fill="#fff" fill-opacity="0.56"/><circle cx="528.7" cy="1081.8" r="13.7" fill="#fff" fill-opacity="0.56"/><text x="628" y="1094.9" font-family="Liberation Sans, sans-serif" font-weight="bold" font-size="51" letter-spacing="4.9" fill="#fff" fill-opacity="0.6">research &amp; development</text></g>
<g filter="url(#wm)" opacity="0.58"><path d="M389.8,1081.8 L436.1,1035.3 L482.2,1035.3 L482.2,988.7 L528.7,942.1" fill="none" stroke="#9cb838" stroke-width="8.5" stroke-linejoin="miter"/><circle cx="389.8" cy="1081.8" r="13.7" fill="#9cb838"/><circle cx="436.1" cy="1035.3" r="13.7" fill="#9cb838"/><circle cx="482.2" cy="1035.3" r="13.7" fill="#9cb838"/><circle cx="482.2" cy="988.7" r="13.7" fill="#9cb838"/><circle cx="528.7" cy="942.1" r="13.7" fill="#9cb838"/></g>
<line x1="1064" y1="1053.2" x2="1134.4" y2="1053.2" stroke="#6fa040" stroke-width="1.6" stroke-opacity="0.85"/></svg></body></html>
